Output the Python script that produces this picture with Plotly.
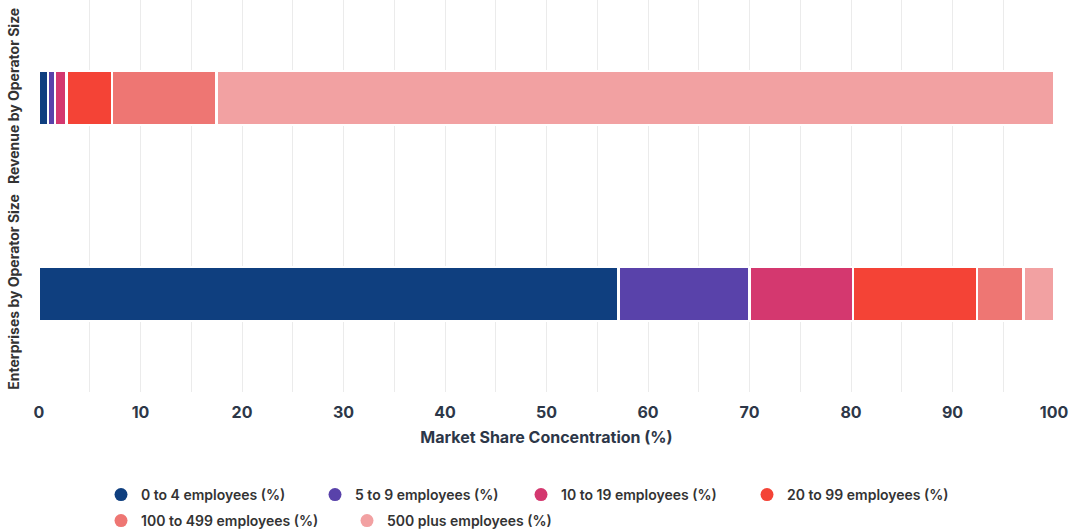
import plotly.graph_objects as go

# Operator-size breakdown, stacked to 100% per measure
categories = ["Enterprises by Operator Size", "Revenue by Operator Size"]

series_names = [
    "0 to 4 employees (%)",
    "5 to 9 employees (%)",
    "10 to 19 employees (%)",
    "20 to 99 employees (%)",
    "100 to 499 employees (%)",
    "500 plus employees (%)",
]

emp_0_4 = [57.1, 0.9]
emp_5_9 = [12.9, 0.7]
emp_10_19 = [10.2, 1.1]
emp_20_99 = [12.2, 4.5]
emp_100_499 = [4.6, 10.3]
emp_500_plus = [3.0, 82.5]

series_values = [emp_0_4, emp_5_9, emp_10_19, emp_20_99, emp_100_499, emp_500_plus]

colors = ["#0F3F7F", "#5942AA", "#D4386F", "#F44336", "#EE7673", "#F2A1A2"]

FONT = "Inter"
TEXT = "#2D3748"
W, H = 1069, 532

# legend key anchor points (pixels from top-left), two rows
legend_px = [(101, 495), (315, 495), (521, 495), (747, 495), (101, 521), (347, 521)]

fig = go.Figure()
for name, vals, col in zip(series_names, series_values, colors):
    fig.add_trace(
        go.Bar(
            name=name,
            y=categories,
            x=vals,
            orientation="h",
            marker=dict(color=col, line=dict(color="white", width=2.5)),
            legendgroup=name,
            showlegend=False,
        )
    )

legend_layouts = {}
for i, (name, col, (px, py)) in enumerate(zip(series_names, colors, legend_px)):
    key = "legend" if i == 0 else f"legend{i + 1}"
    fig.add_trace(
        go.Scatter(
            name=name,
            x=[None],
            y=[None],
            mode="markers",
            marker=dict(symbol="circle", size=13, color=col),
            legendgroup=name,
            showlegend=True,
            legend=key,
        )
    )
    legend_layouts[key] = dict(
        orientation="h",
        x=px / W,
        xanchor="left",
        xref="container",
        y=1 - py / H,
        yanchor="middle",
        yref="container",
        font=dict(family=FONT, size=14, color="#333333", weight=600),
        bgcolor="rgba(0,0,0,0)",
    )

fig.update_layout(
    width=W,
    height=H,
    barmode="stack",
    bargap=0.725,
    plot_bgcolor="white",
    paper_bgcolor="white",
    margin=dict(l=39, r=15, t=0, b=140, autoexpand=False),
    font=dict(family=FONT, color=TEXT),
    showlegend=True,
    xaxis=dict(
        range=[0, 100],
        tickvals=list(range(0, 101, 10)),
        showgrid=True,
        gridcolor="#EBEBEB",
        gridwidth=1,
        zeroline=False,
        showline=False,
        ticks="",
        ticklabelstandoff=9,
        tickfont=dict(family=FONT, size=16, color=TEXT, weight=700),
        title=dict(
            text="Market Share Concentration (%)",
            font=dict(family=FONT, size=16, color=TEXT, weight=700),
            standoff=10,
        ),
        automargin=False,
        minor=dict(dtick=5, showgrid=True, gridcolor="#EBEBEB", gridwidth=1),
    ),
    yaxis=dict(
        tickangle=-90,
        showgrid=False,
        zeroline=False,
        showline=False,
        ticks="",
        ticklabelstandoff=16,
        range=[-0.5, 1.5],
        tickfont=dict(family=FONT, size=14, color="#333333", weight=700),
        automargin=False,
    ),
    **legend_layouts,
)

fig.write_html("out.html")
